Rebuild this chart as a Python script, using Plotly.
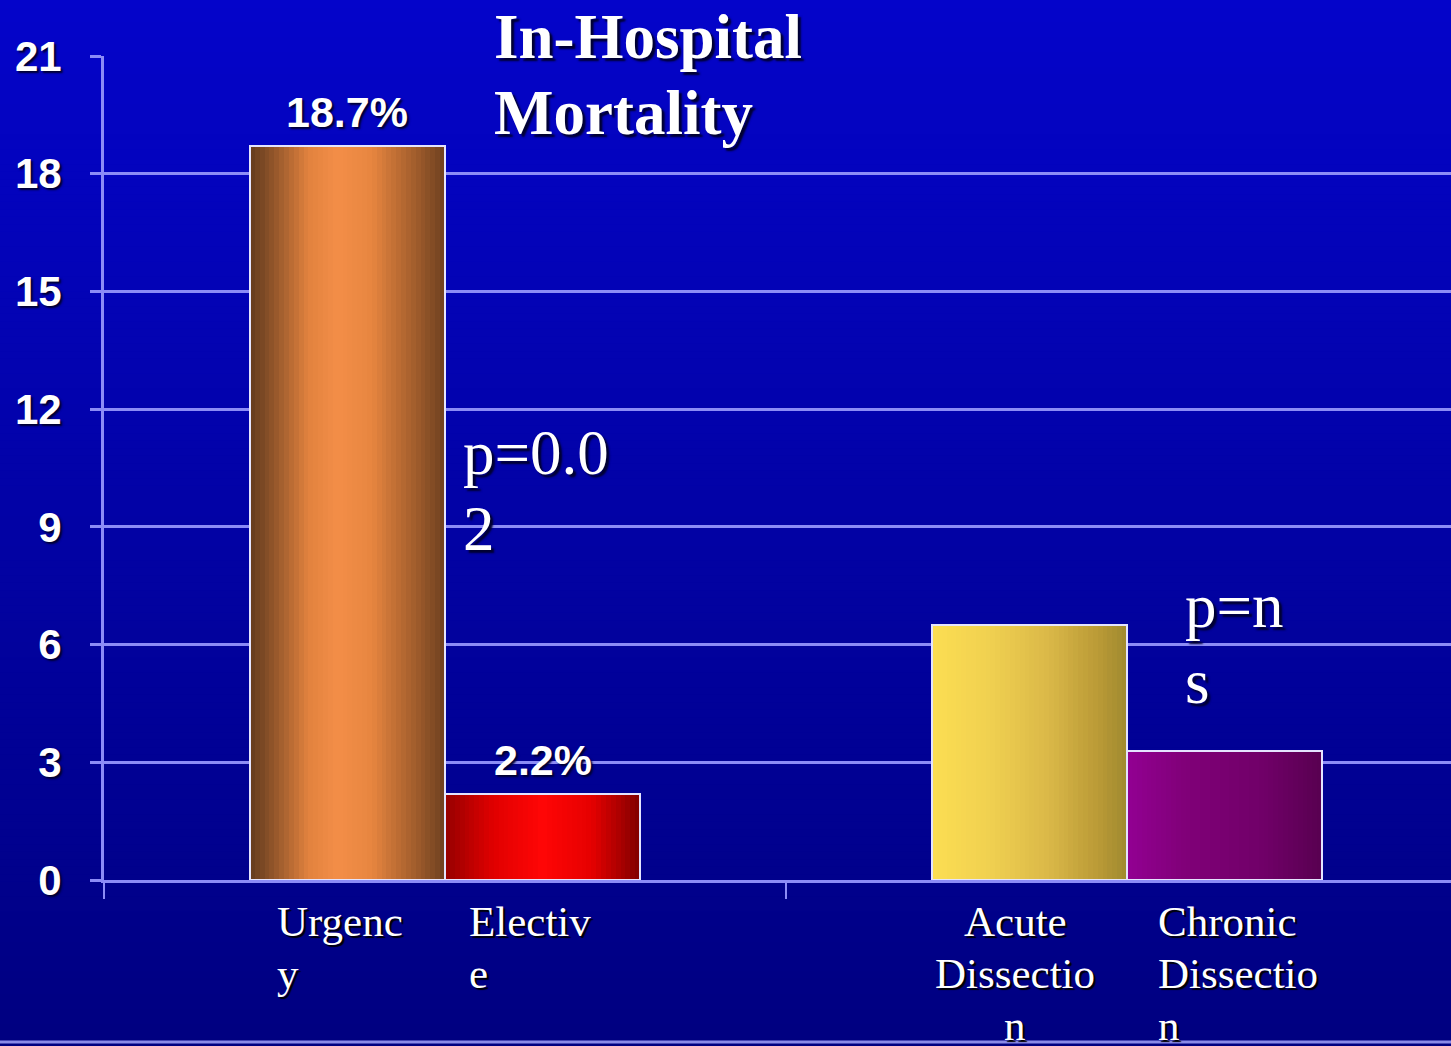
import plotly.graph_objects as go

# ---- data -------------------------------------------------------------
categories = ["Urgency", "Elective", "Acute Dissection", "Chronic Dissection"]
mortality = [18.7, 2.2, 6.5, 3.3]          # in-hospital mortality, %
group_index = [0, 0, 1, 1]                 # which pair each bar belongs to
side = [-1, 1, -1, 1]                      # left / right bar inside the pair
value_labels = ["18.7%", "2.2%", "", ""]
axis_labels = [["Urgenc", "y"], ["Electiv", "e"],
               ["Acute", "Dissectio", "n"], ["Chronic", "Dissectio", "n"]]
p_values = [["p=0.0", "2"], ["p=n", "s"]]
y_ticks = [0, 3, 6, 9, 12, 15, 18, 21]

# ---- styling ----------------------------------------------------------
W, H = 1451, 1046
L, T, B = 104, 56, 166
PW, PH = W - L, H - T - B
BAR_W = 0.286
GRID = "#8c8cf6"
SHADOW = "2px 2px 2px #000030"

# horizontal shading stops for each bar (position, rgb)
shading = [
    [(0.0, (100, 60, 30)), (0.1, (136, 80, 40)), (0.3, (226, 130, 62)),
     (0.45, (243, 142, 72)), (0.62, (232, 134, 64)), (0.82, (170, 98, 46)),
     (1.0, (110, 64, 32))],
    [(0.0, (150, 0, 0)), (0.25, (225, 0, 0)), (0.5, (255, 6, 6)),
     (0.75, (230, 0, 0)), (1.0, (128, 0, 0))],
    [(0.0, (252, 222, 82)), (0.3, (240, 208, 80)), (0.6, (218, 184, 72)),
     (0.85, (186, 154, 54)), (1.0, (160, 138, 48))],
    [(0.0, (146, 0, 146)), (0.3, (128, 0, 120)), (0.7, (112, 0, 104)),
     (1.0, (88, 0, 80))],
]


def lerp_color(stops, t):
    for (p0, c0), (p1, c1) in zip(stops, stops[1:]):
        if p0 <= t <= p1:
            f = (t - p0) / (p1 - p0) if p1 > p0 else 0
            c = [round(a + (b - a) * f) for a, b in zip(c0, c1)]
            return "rgb(%d,%d,%d)" % tuple(c)
    return "rgb(%d,%d,%d)" % stops[-1][1]


def px_x(px):
    return (px - L) / PW


def px_y(py):
    return (H - B - py) / PH


fig = go.Figure()

# shaded bars, built from thin slices
N = 40
for k, (name, val) in enumerate(zip(categories, mortality)):
    start = 0.0 if side[k] > 0 else -BAR_W
    offs = [start + i * BAR_W / N for i in range(N)]
    cols = [lerp_color(shading[k], (i + 0.5) / N) for i in range(N)]
    fig.add_trace(go.Bar(
        x=[group_index[k]] * N, y=[val] * N, offset=offs,
        width=[BAR_W / N + 0.0008] * N,
        marker=dict(color=cols, line=dict(width=0)),
        name=name, showlegend=False, hoverinfo="skip",
    ))

# bar outlines
fig.add_trace(go.Bar(
    x=group_index, y=mortality,
    offset=[0.0 if s > 0 else -BAR_W for s in side], width=[BAR_W] * 4,
    marker=dict(color="rgba(0,0,0,0)", line=dict(color="#e4e4ff", width=2)),
    customdata=categories, hovertemplate="%{customdata}: %{y}%<extra></extra>",
    showlegend=False,
))

# background gradient
shapes = []
NB = 140
for i in range(NB):
    t = (i + 0.5) / NB
    c = (round(4 - 4 * t), round(4 - 4 * t), round(202 - 74 * t))
    y_top = H * i / NB
    y_bot = H * (i + 1) / NB + 1
    shapes.append(dict(type="rect", xref="paper", yref="paper", layer="below",
                       x0=px_x(0), x1=px_x(W), y0=px_y(y_bot), y1=px_y(y_top),
                       fillcolor="rgb(%d,%d,%d)" % c, line=dict(width=0)))
shapes.append(dict(type="line", xref="paper", yref="paper",
                   x0=px_x(0), x1=px_x(W), y0=px_y(1042), y1=px_y(1042),
                   line=dict(color="#8a8ae8", width=3)))

annotations = []
# value labels above bars
for k, txt in enumerate(value_labels):
    if txt:
        annotations.append(dict(
            x=group_index[k] + side[k] * BAR_W / 2, y=mortality[k],
            xref="x", yref="y", text=txt, showarrow=False,
            yanchor="bottom", yshift=8,
            font=dict(family="Liberation Sans", size=43, color="white",
                      weight="bold", shadow=SHADOW)))

# category labels under the axis, one annotation per wrapped line
label_pos = [(275, "left"), (467, "left"), (1015, "center"), (1156, "left")]
for lines, (xp, al) in zip(axis_labels, label_pos):
    for j, txt in enumerate(lines):
        annotations.append(dict(
            x=px_x(xp), y=px_y(896 + 52 * j), xref="paper", yref="paper",
            text=txt, showarrow=False, xanchor=al, yanchor="top",
            font=dict(family="Liberation Serif", size=43, color="white",
                      shadow="2px 2px 1px #000000")))

# title
for txt, yp in [("In-Hospital", 37), ("Mortality", 113)]:
    annotations.append(dict(
        x=px_x(492), y=px_y(yp), xref="paper", yref="paper", text=txt,
        showarrow=False, xanchor="left", yanchor="middle",
        font=dict(family="Liberation Serif", size=63, color="white",
                  weight="bold", shadow="3px 3px 2px #000030")))

# significance notes
for lines, xp, yps in [(p_values[0], 461, (453, 529)),
                       (p_values[1], 1183, (606, 682))]:
    for txt, yp in zip(lines, yps):
        annotations.append(dict(
            x=px_x(xp), y=px_y(yp), xref="paper", yref="paper", text=txt,
            showarrow=False, xanchor="left", yanchor="middle",
            font=dict(family="Liberation Serif", size=63, color="white",
                      shadow="3px 3px 2px #000030")))

fig.update_layout(
    width=W, height=H,
    margin=dict(l=L, r=0, t=T, b=B),
    barmode="overlay", bargap=0,
    paper_bgcolor="#000098", plot_bgcolor="rgba(0,0,0,0)",
    shapes=shapes, annotations=annotations,
    xaxis=dict(range=[-0.5, -0.5 + PW / 682], showgrid=False, zeroline=False,
               showline=True, linecolor=GRID, linewidth=3,
               tickmode="array", tickvals=[-0.5, 0.5, 1.5],
               ticks="outside", ticklen=16, tickwidth=2, tickcolor=GRID,
               showticklabels=False, fixedrange=True),
    yaxis=dict(range=[0, 21], tickmode="array", tickvals=y_ticks,
               showgrid=True, gridcolor=GRID, gridwidth=3, zeroline=False,
               showline=True, linecolor=GRID, linewidth=3,
               ticks="outside", ticklen=11, tickwidth=3, tickcolor=GRID,
               ticklabelstandoff=20,
               tickfont=dict(family="Liberation Sans", size=42, color="white",
                             weight="bold", shadow=SHADOW),
               fixedrange=True),
    hovermode="closest",
)

fig.write_html("out.html")
